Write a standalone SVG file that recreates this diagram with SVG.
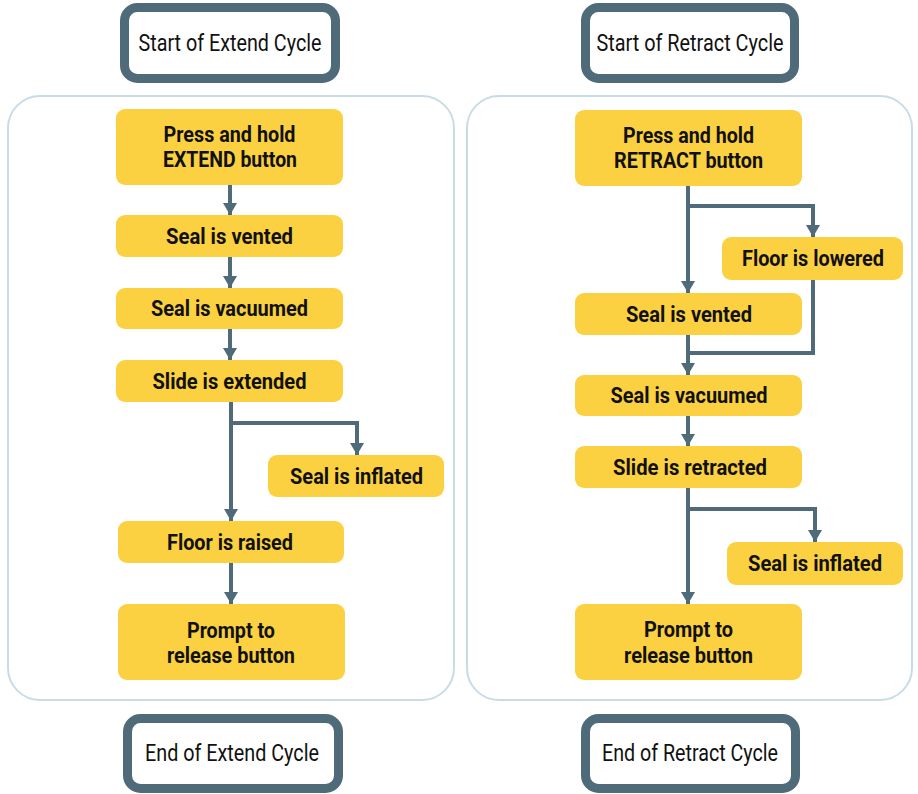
<svg xmlns="http://www.w3.org/2000/svg" width="918" height="794" viewBox="0 0 918 794">
<defs>
<style>
.term{fill:#fff;stroke:#4f6b7a;stroke-width:9}
.panel{fill:#fff;stroke:#c9dce6;stroke-width:2}
.step{fill:#fcd141}
.tt{font-family:Roboto,"Liberation Sans",sans-serif;font-size:23px;fill:#111;text-anchor:middle}
.st{font-family:Roboto,"Liberation Sans",sans-serif;font-size:22px;font-weight:bold;fill:#111;text-anchor:middle}
.c{fill:none;stroke:#4f6b7a;stroke-width:4}
</style>
<marker id="ah" viewBox="0 0 12 14" refX="12" refY="7" markerWidth="12" markerHeight="14" markerUnits="userSpaceOnUse" orient="auto">
<path d="M0,0 L12,7 L0,14 Z" fill="#4f6b7a"/>
</marker>
</defs>
<rect width="918" height="794" fill="#fff"/>
<g id="panels">
<rect class="panel" x="8" y="96" width="446" height="604" rx="32"/>
<rect class="panel" x="467" y="96" width="445" height="604" rx="32"/>
</g>
<g id="connectors">
<path class="c" d="M230,185 V215" marker-end="url(#ah)"/>
<path class="c" d="M230,257 V288" marker-end="url(#ah)"/>
<path class="c" d="M230,329 V360" marker-end="url(#ah)"/>
<path class="c" d="M231,402 V521" marker-end="url(#ah)"/>
<path class="c" d="M231,423 H357 V455" marker-end="url(#ah)"/>
<path class="c" d="M231,563 V604" marker-end="url(#ah)"/>
<path class="c" d="M688,186 V293" marker-end="url(#ah)"/>
<path class="c" d="M688,206 H813 V237" marker-end="url(#ah)"/>
<path class="c" d="M688,335 V375" marker-end="url(#ah)"/>
<path class="c" d="M813,280 V353 H688"/>
<path class="c" d="M688,416 V446" marker-end="url(#ah)"/>
<path class="c" d="M688,488 V604" marker-end="url(#ah)"/>
<path class="c" d="M688,509 H815 V542" marker-end="url(#ah)"/>
</g>
<g id="start-extend"><rect class="term" x="124.5" y="7.5" width="211" height="71" rx="13"/><text class="tt" x="230" y="51" textLength="183" lengthAdjust="spacingAndGlyphs">Start of Extend Cycle</text></g>
<g id="start-retract"><rect class="term" x="585.5" y="7.5" width="209" height="71" rx="13"/><text class="tt" x="690" y="51" textLength="187" lengthAdjust="spacingAndGlyphs">Start of Retract Cycle</text></g>
<g id="end-extend"><rect class="term" x="127.5" y="718.5" width="211" height="70" rx="13"/><text class="tt" x="232" y="761" textLength="174" lengthAdjust="spacingAndGlyphs">End of Extend Cycle</text></g>
<g id="end-retract"><rect class="term" x="585.5" y="718.5" width="210" height="70" rx="13"/><text class="tt" x="690" y="761" textLength="176" lengthAdjust="spacingAndGlyphs">End of Retract Cycle</text></g>
<g id="e1"><rect class="step" x="116" y="109" width="227" height="76" rx="9"/><text class="st" x="229.5" y="142" textLength="132" lengthAdjust="spacingAndGlyphs">Press and hold</text><text class="st" x="230" y="167" textLength="134" lengthAdjust="spacingAndGlyphs">EXTEND button</text></g>
<g id="e2"><rect class="step" x="116" y="215" width="227" height="42" rx="9"/><text class="st" x="229.5" y="244" textLength="127" lengthAdjust="spacingAndGlyphs">Seal is vented</text></g>
<g id="e3"><rect class="step" x="116" y="288" width="227" height="41" rx="9"/><text class="st" x="229.5" y="316" textLength="157" lengthAdjust="spacingAndGlyphs">Seal is vacuumed</text></g>
<g id="e4"><rect class="step" x="116" y="360" width="227" height="42" rx="9"/><text class="st" x="229.5" y="389" textLength="154" lengthAdjust="spacingAndGlyphs">Slide is extended</text></g>
<g id="e5"><rect class="step" x="268" y="455" width="176" height="42" rx="9"/><text class="st" x="356.5" y="484" textLength="133" lengthAdjust="spacingAndGlyphs">Seal is inflated</text></g>
<g id="e6"><rect class="step" x="118" y="521" width="226" height="42" rx="9"/><text class="st" x="230" y="550" textLength="126" lengthAdjust="spacingAndGlyphs">Floor is raised</text></g>
<g id="e7"><rect class="step" x="118" y="604" width="227" height="76" rx="9"/><text class="st" x="231" y="638" textLength="88" lengthAdjust="spacingAndGlyphs">Prompt to</text><text class="st" x="231" y="663" textLength="128" lengthAdjust="spacingAndGlyphs">release button</text></g>
<g id="r1"><rect class="step" x="575" y="110" width="227" height="76" rx="9"/><text class="st" x="688.5" y="143" textLength="131" lengthAdjust="spacingAndGlyphs">Press and hold</text><text class="st" x="688.5" y="168" textLength="149" lengthAdjust="spacingAndGlyphs">RETRACT button</text></g>
<g id="r2"><rect class="step" x="722" y="237" width="181" height="43" rx="9"/><text class="st" x="813" y="266" textLength="142" lengthAdjust="spacingAndGlyphs">Floor is lowered</text></g>
<g id="r3"><rect class="step" x="575" y="293" width="227" height="42" rx="9"/><text class="st" x="689" y="322" textLength="126" lengthAdjust="spacingAndGlyphs">Seal is vented</text></g>
<g id="r4"><rect class="step" x="575" y="375" width="227" height="41" rx="9"/><text class="st" x="689" y="403" textLength="157" lengthAdjust="spacingAndGlyphs">Seal is vacuumed</text></g>
<g id="r5"><rect class="step" x="575" y="446" width="227" height="42" rx="9"/><text class="st" x="690" y="475" textLength="154" lengthAdjust="spacingAndGlyphs">Slide is retracted</text></g>
<g id="r6"><rect class="step" x="727" y="542" width="176" height="43" rx="9"/><text class="st" x="815" y="571" textLength="134" lengthAdjust="spacingAndGlyphs">Seal is inflated</text></g>
<g id="r7"><rect class="step" x="575" y="604" width="227" height="76" rx="9"/><text class="st" x="688.5" y="637" textLength="89" lengthAdjust="spacingAndGlyphs">Prompt to</text><text class="st" x="688.5" y="663" textLength="129" lengthAdjust="spacingAndGlyphs">release button</text></g>
</svg>
